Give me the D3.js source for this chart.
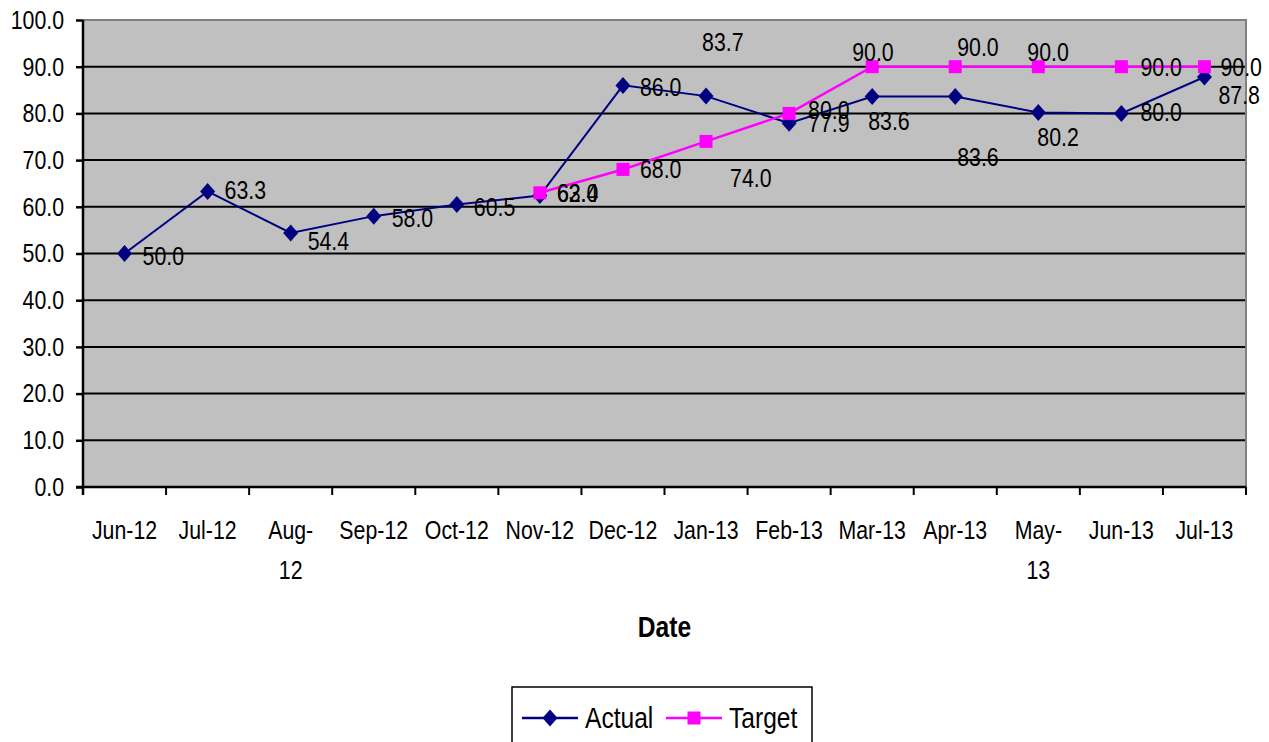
<!DOCTYPE html>
<html>
<head>
<meta charset="utf-8">
<script src="https://cdn.jsdelivr.net/npm/d3@7"></script>
<style>
  body { margin: 0; background: #fff; }
  svg text { font-family: "Liberation Sans", Arial, sans-serif; fill: #000; }
</style>
</head>
<body>
<svg id="chart" width="1269" height="742"></svg>
<script>
'use strict';

// chart data
const months = ['Jun-12', 'Jul-12', 'Aug-12', 'Sep-12', 'Oct-12', 'Nov-12', 'Dec-12',
	'Jan-13', 'Feb-13', 'Mar-13', 'Apr-13', 'May-13', 'Jun-13', 'Jul-13'];
const monthLabels = ['Jun-12', 'Jul-12', 'Aug-|12', 'Sep-12', 'Oct-12', 'Nov-12', 'Dec-12',
	'Jan-13', 'Feb-13', 'Mar-13', 'Apr-13', 'May-|13', 'Jun-13', 'Jul-13'];
const actual = [50.0, 63.3, 54.4, 58.0, 60.5, 62.4, 86.0, 83.7, 77.9, 83.6, 83.6, 80.2, 80.0, 87.8];
const target = [null, null, null, null, null, 63.0, 68.0, 74.0, 80.0, 90.0, 90.0, 90.0, 90.0, 90.0];
const yTicks = [0, 10, 20, 30, 40, 50, 60, 70, 80, 90, 100];

// where excel left each data label (px, left edge / middle, from the point)
const actualLabelPos = [[18, 2], [17, -1], [17, 8], [18, 2], [17, 2], [17, -3], [17, 2],
	[-4, -54], [19, 0], [-4, 24], [2, 60], [-1, 24], [19, -1], [14, 18]];
const targetLabelPos = [null, null, null, null, null, [17, 0], [17, -1],
	[24, 36], [19, -3], [-20, -15], [2, -20], [-11, -15], [19, 0], [16, 0]];

const margin = {top: 20, right: 23, bottom: 255, left: 83};
const W = 1269, H = 742;
const NARROW = 0.82; // no arial narrow here, squeeze the glyphs instead

const $svg = d3.select('#chart');

const x = d3.scaleBand()
	.domain(months)
	.range([margin.left, W - margin.right])
	.padding(0);

const y = d3.scaleLinear()
	.domain([0, 100])
	.range([H - margin.bottom, margin.top]);

const plotW = x.range()[1] - x.range()[0];
const cx = d => x(d) + x.bandwidth() / 2;

// plot area
$svg.append('rect')
	.attr('x', margin.left)
	.attr('y', y(100))
	.attr('width', plotW)
	.attr('height', y(0) - y(100))
	.attr('fill', '#c0c0c0');

// gridlines
$svg.append('g')
	.selectAll('line')
	.data(yTicks.filter(d => d > 0 && d < 100))
	.join('line')
	.attr('x1', margin.left)
	.attr('x2', margin.left + plotW)
	.attr('y1', d => y(d))
	.attr('y2', d => y(d))
	.attr('stroke', '#000')
	.attr('stroke-width', 2);

// grey frame top and right
$svg.append('path')
	.attr('d', `M${margin.left},${y(100)}H${margin.left + plotW}V${y(0)}`)
	.attr('fill', 'none')
	.attr('stroke', '#808080')
	.attr('stroke-width', 2);

// y axis
const $yAxis = $svg.append('g')
	.attr('transform', `translate(${margin.left},0)`)
	.call(d3.axisLeft(y).tickValues(yTicks).tickFormat(d3.format('.1f')).tickSize(7).tickPadding(12))
;
$yAxis.select('.domain').remove();
$yAxis.selectAll('.tick line').attr('stroke', '#000').attr('stroke-width', 2.5);
$yAxis.selectAll('.tick text').attr('font-size', 26).attr('fill', '#000');

// x axis line + ticks at band edges
$svg.append('line')
	.attr('x1', margin.left - 7)
	.attr('x2', margin.left + plotW)
	.attr('y1', y(0))
	.attr('y2', y(0))
	.attr('stroke', '#000')
	.attr('stroke-width', 2.5);
$svg.append('line')
	.attr('x1', margin.left)
	.attr('x2', margin.left)
	.attr('y1', y(100))
	.attr('y2', y(0) + 8)
	.attr('stroke', '#000')
	.attr('stroke-width', 2.5);

$svg.append('g')
	.selectAll('line')
	.data(months.map(m => x(m)).concat([margin.left + plotW]))
	.join('line')
	.attr('x1', d => d)
	.attr('x2', d => d)
	.attr('y1', y(0))
	.attr('y2', y(0) + 8)
	.attr('stroke', '#000')
	.attr('stroke-width', 2);

// x tick labels (excel wrapped two of them)
$svg.append('g')
	.selectAll('text')
	.data(months)
	.join('text')
	.attr('x', d => cx(d))
	.attr('y', y(0) + 52)
	.attr('text-anchor', 'middle')
	.attr('font-size', 26)
	.each(function(d, i) {
		const lines = monthLabels[i].split('|');
		d3.select(this).selectAll('tspan')
			.data(lines)
			.join('tspan')
			.attr('x', cx(d))
			.attr('dy', (l, j) => j == 0 ? 0 : 40)
			.text(l => l);
	});

// axis title
$svg.append('text')
	.attr('x', margin.left + plotW / 2)
	.attr('y', 637)
	.attr('text-anchor', 'middle')
	.attr('font-size', 30)
	.attr('font-weight', 'bold')
	.text('Date');

// series
const line = d3.line()
	.defined(d => d[1] != null)
	.x(d => cx(d[0]))
	.y(d => y(d[1]));

const actualPts = months.map((m, i) => [m, actual[i]]);
const targetPts = months.map((m, i) => [m, target[i]]).filter(d => d[1] != null);

function diamond(sel) {
	sel.attr('d', 'M0,-8.5L7.5,0L0,8.5L-7.5,0Z').attr('fill', '#000080');
}
function square(sel) {
	sel.attr('d', 'M-6.5,-6.5H6.5V6.5H-6.5Z').attr('fill', '#ff00ff');
}

$svg.append('path')
	.datum(actualPts)
	.attr('d', line)
	.attr('fill', 'none')
	.attr('stroke', '#000080')
	.attr('stroke-width', 2);

$svg.append('path')
	.datum(targetPts)
	.attr('d', line)
	.attr('fill', 'none')
	.attr('stroke', '#ff00ff')
	.attr('stroke-width', 2.5);

$svg.append('g')
	.selectAll('path')
	.data(actualPts)
	.join('path')
	.attr('transform', d => `translate(${cx(d[0])},${y(d[1])})`)
	.call(diamond);

$svg.append('g')
	.selectAll('path')
	.data(targetPts)
	.join('path')
	.attr('transform', d => `translate(${cx(d[0])},${y(d[1])})`)
	.call(square);

// data labels
function labels(pts, pos) {
	$svg.append('g')
		.selectAll('text')
		.data(pts)
		.join('text')
		.attr('x', d => cx(d[0]) + pos[months.indexOf(d[0])][0])
		.attr('y', d => y(d[1]) + pos[months.indexOf(d[0])][1])
		.attr('dy', '0.35em')
		.attr('font-size', 26)
		.text(d => d3.format('.1f')(d[1]));
}
labels(actualPts, actualLabelPos);
labels(targetPts, targetLabelPos);

// legend
const $legend = $svg.append('g');
$legend.append('rect')
	.attr('x', 512)
	.attr('y', 687)
	.attr('width', 300)
	.attr('height', 70)
	.attr('fill', '#fff')
	.attr('stroke', '#000')
	.attr('stroke-width', 1.5);

const legendItems = [
	{name: 'Actual', color: '#000080', mark: diamond, x: 522},
	{name: 'Target', color: '#ff00ff', mark: square, x: 666},
];
legendItems.forEach(it => {
	$legend.append('line')
		.attr('x1', it.x).attr('x2', it.x + 56)
		.attr('y1', 718).attr('y2', 718)
		.attr('stroke', it.color)
		.attr('stroke-width', 2.5);
	$legend.append('path')
		.attr('transform', `translate(${it.x + 28},718)`)
		.call(it.mark);
	$legend.append('text')
		.attr('x', it.x + 63)
		.attr('y', 718)
		.attr('dy', '0.35em')
		.attr('font-size', 30)
		.text(it.name);
});

// squeeze every text horizontally round its own anchor point
$svg.selectAll('text').each(function() {
	const t = d3.select(this);
	const ax = +t.attr('x') || 0;
	const ay = +t.attr('y') || 0;
	t.attr('transform', `translate(${ax},${ay}) scale(${NARROW},1) translate(${-ax},${-ay})`);
});
</script>
</body>
</html>
